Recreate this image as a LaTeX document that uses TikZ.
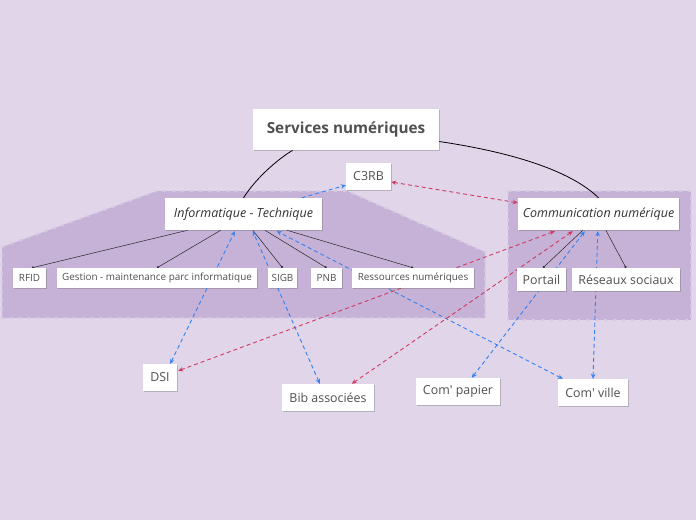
\documentclass[tikz,border=0pt]{standalone}
\usepackage{fontspec}
\setmainfont{Open Sans}
\usetikzlibrary{arrows.meta,shadows,calc}
\pgfdeclarelayer{bgl}
\pgfdeclarelayer{lines}
\pgfsetlayers{bgl,lines,main}
\definecolor{bg}{RGB}{225,213,234}
\definecolor{grp}{RGB}{197,178,214}
\definecolor{grpb}{RGB}{214,202,227}
\definecolor{txt}{RGB}{80,80,80}
\definecolor{blu}{RGB}{52,130,240}
\definecolor{rd}{RGB}{208,58,98}
\tikzset{
  box/.style={draw=none,fill=white,inner sep=0pt,text=txt,
    drop shadow={shadow xshift=1pt,shadow yshift=-1.2pt,opacity=0.35,fill=black!60}},
  tiny/.style={font=\fontsize{9.9}{11}\selectfont,minimum height=20pt},
  mid/.style={font=\fontsize{12.4}{14}\selectfont,minimum height=27pt},
  hand/.style={font=\itshape\fontsize{12.5}{14}\selectfont,text=black!80,minimum height=32pt},
  grpshape/.style={fill=grp,draw=grpb,line width=2pt,dash pattern=on 3pt off 6pt},
  child/.style={draw=black!85,line width=0.5pt,-{Circle[length=2.2pt]}},
  bl/.style={draw=blu,line width=0.9pt,dash pattern=on 4pt off 3pt,{Stealth[length=5pt,width=4.5pt,inset=1.8pt]}-{Stealth[length=5pt,width=4.5pt,inset=1.8pt]}},
  blone/.style={draw=blu,line width=0.9pt,dash pattern=on 4pt off 3pt,-{Stealth[length=5pt,width=4.5pt,inset=1.8pt]}},
  rdd/.style={draw=rd,line width=0.9pt,dash pattern=on 4pt off 3pt,{Stealth[length=5pt,width=4.5pt,inset=1.8pt]}-{Stealth[length=5pt,width=4.5pt,inset=1.8pt]}},
  main/.style={draw=black,line width=0.8pt}
}
\begin{document}
\begin{tikzpicture}[x=1pt,y=-1pt]
\begin{pgfonlayer}{bgl}
\fill[bg] (0,0) rectangle (696,520);
\path[grpshape] (2,247) -- (157,191) -- (347,191) -- (485,252) -- (485,318) -- (2,318) -- cycle;
\path[grpshape] (508,191) -- (691,191) -- (691,320) -- (508,320) -- cycle;
\end{pgfonlayer}
\useasboundingbox (0,0) rectangle (696,520);
% nodes
\node[box,font=\bfseries\fontsize{15.3}{17}\selectfont,minimum width=186pt,minimum height=41pt] (srv) at (346,129.5) {Services numériques};
\node[box,mid,minimum width=45pt] (c3rb) at (368.5,176.5) {C3RB};
\node[box,hand,minimum width=157pt] (inf) at (243.5,214) {Informatique - Technique};
\node[box,hand,minimum width=161pt] (com) at (598.5,214) {Communication numérique};
\node[box,tiny,minimum width=33pt] (rfid) at (29.5,278) {RFID};
\node[box,tiny,minimum width=200pt] (gest) at (157,278) {Gestion - maintenance parc informatique};
\node[box,tiny,minimum width=29pt] (sigb) at (282.5,278) {SIGB};
\node[box,tiny,minimum width=31pt] (pnb) at (326.5,278) {PNB};
\node[box,tiny,minimum width=122pt] (res) at (413,278) {Ressources numériques};
\node[box,mid,minimum width=49pt,minimum height=23pt] (port) at (541.5,279.5) {Portail};
\node[box,mid,minimum width=108pt,minimum height=23pt] (rs) at (626,279.5) {Réseaux sociaux};
\node[box,mid,minimum width=34pt] (dsi) at (160,377.5) {DSI};
\node[box,mid,minimum width=92pt] (bib) at (328,397.5) {Bib associées};
\node[box,mid,minimum width=84pt] (cpap) at (458,391.5) {Com\textquotesingle{} papier};
\node[box,mid,minimum width=70pt] (cvil) at (593,392.5) {Com\textquotesingle{} ville};
\begin{pgfonlayer}{lines}
% main curves
\draw[main] ($(srv.south west)+(40,0)$) .. controls (278,159) and (256,178) .. (inf.north);
\draw[main] ($(srv.east)+(0,12)$) .. controls (510,152) and (570,170) .. (com.north);
% children
\draw[child] ($(inf.south west)+(23,0)$) -- ($(rfid.north)+(2.5,0)$);
\draw[child] ($(inf.south west)+(56,0)$) -- (gest.north);
\draw[child] ($(inf.south west)+(88,0)$) -- (sigb.north);
\draw[child] ($(inf.south west)+(100,0)$) -- (pnb.north);
\draw[child] ($(inf.south west)+(122,0)$) -- (res.north);
\draw[child] ($(com.south west)+(65,0)$) -- ($(port.north)+(1.5,0)$);
\draw[child] ($(com.south west)+(88,0)$) -- (rs.north);
% blue dashed
\draw[blone] ($(inf.north west)+(137,0)$) -- ($(c3rb.south west)+(0,-5)$);
\draw[bl] ($(dsi.north east)+(-7,0)$) -- ($(inf.south west)+(70,1)$);
\draw[bl] ($(bib.north west)+(38,0)$) -- ($(inf.south west)+(88,1)$);
\draw[bl] ($(cvil.north west)+(5,0)$) -- ($(inf.south west)+(112,1)$);
\draw[bl] ($(cpap.north west)+(56,0)$) -- ($(com.south west)+(67,1)$);
\draw[bl] (cvil.north) -- ($(com.south west)+(80,1)$);
% red dashed
\draw[rdd] ($(c3rb.east)+(0,5.5)$) -- ($(com.north west)+(0,5)$);
\draw[rdd] ($(dsi.north east)+(1,7)$) -- ($(com.south west)+(37,1)$);
\draw[rdd] ($(bib.north west)+(70,0)$) -- ($(com.south west)+(55,1)$);
\end{pgfonlayer}
\end{tikzpicture}
\end{document}
